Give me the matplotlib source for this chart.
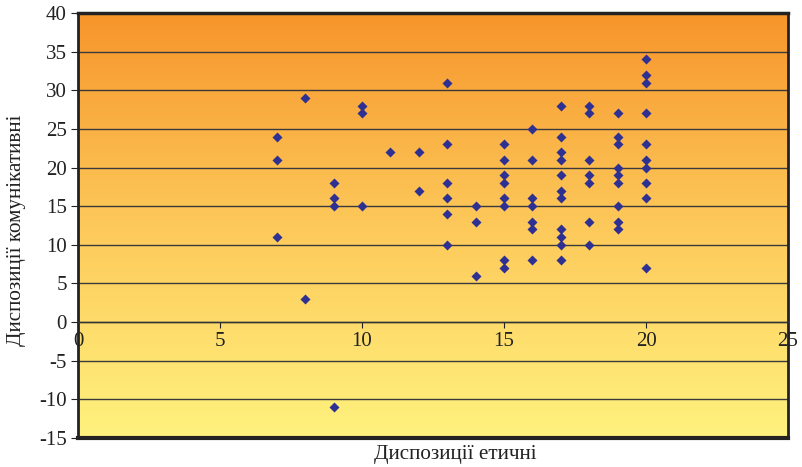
import numpy as np
import matplotlib
matplotlib.use("Agg")
import matplotlib.pyplot as plt
from matplotlib.colors import LinearSegmentedColormap

# Data: (x = Диспозиції етичні, y = Диспозиції комунікативні)
x_vals = ([7]*3 + [8]*2 + [9]*4 + [10]*3 + [11]*1 + [12]*2 + [13]*6 + [14]*3 +
          [15]*8 + [16]*7 + [17]*11 + [18]*7 + [19]*9 + [20]*10)
y_vals = [24, 21, 11,
          29, 3,
          18, 16, 15, -11,
          28, 27, 15,
          22,
          22, 17,
          31, 23, 18, 16, 14, 10,
          15, 13, 6,
          23, 21, 19, 18, 16, 15, 8, 7,
          25, 21, 16, 15, 13, 12, 8,
          28, 24, 22, 21, 19, 17, 16, 12, 11, 10, 8,
          28, 27, 21, 19, 18, 13, 10,
          27, 24, 23, 20, 19, 18, 15, 13, 12,
          34, 32, 31, 27, 23, 21, 20, 18, 16, 7]
x_ticks = [0, 5, 10, 15, 20, 25]
y_ticks = [-15, -10, -5, 0, 5, 10, 15, 20, 25, 30, 35, 40]
x_label = "Диспозиції етичні"
y_label = "Диспозиції комунікативні"

plt.rcParams['font.family'] = ['Liberation Serif', 'DejaVu Serif']
plt.rcParams['axes.unicode_minus'] = False

W, H = 802, 467
fig = plt.figure(figsize=(W/100, H/100), dpi=100)
ax = fig.add_axes([78/W, 1-438/H, (788-78)/W, (438-13)/H])

xmin, xmax, ymin, ymax = 0, 25, -15, 40
cmap = LinearSegmentedColormap.from_list("grad", ["#FFF27E", "#FDC95A", "#F7952B"])
grad = np.linspace(0, 1, 256).reshape(-1, 1)
ax.imshow(grad, extent=[xmin, xmax, ymin, ymax], origin='lower', aspect='auto',
          cmap=cmap, zorder=0)

for yt in y_ticks[1:-1]:
    ax.axhline(yt, color='#3a3a3a', lw=1.0, zorder=1)

ax.scatter(x_vals, y_vals, marker='D', s=26, color='#2E3192', zorder=3, linewidths=0)

ax.set_xlim(xmin, xmax)
ax.set_ylim(ymin, ymax)

ax.spines['bottom'].set_position(('data', 0))
ax.spines['bottom'].set_color('#333333')
ax.spines['bottom'].set_linewidth(1.0)
ax.spines['left'].set_linewidth(2.0)
ax.spines['top'].set_linewidth(2.5)
ax.spines['right'].set_linewidth(2.0)
for s in ['left', 'top', 'right']:
    ax.spines[s].set_color('#222222')
ax.axhline(ymin, color='#222222', lw=3, zorder=4, clip_on=False)

ax.set_xticks(x_ticks)
ax.set_yticks(y_ticks)
ax.tick_params(axis='x', direction='out', length=4, pad=3, labelsize=15, colors='#222222')
ax.tick_params(axis='y', direction='out', length=5, pad=3, labelsize=15, colors='#222222')

fig.text(455/W, 1-455/H, x_label, fontsize=15.2, color='#222222', ha='center', va='center')
fig.text(17/W, 1-230/H, y_label, fontsize=15.2, color='#222222', ha='center', va='center',
         rotation=90)

fig.savefig("out.png", dpi=100)
